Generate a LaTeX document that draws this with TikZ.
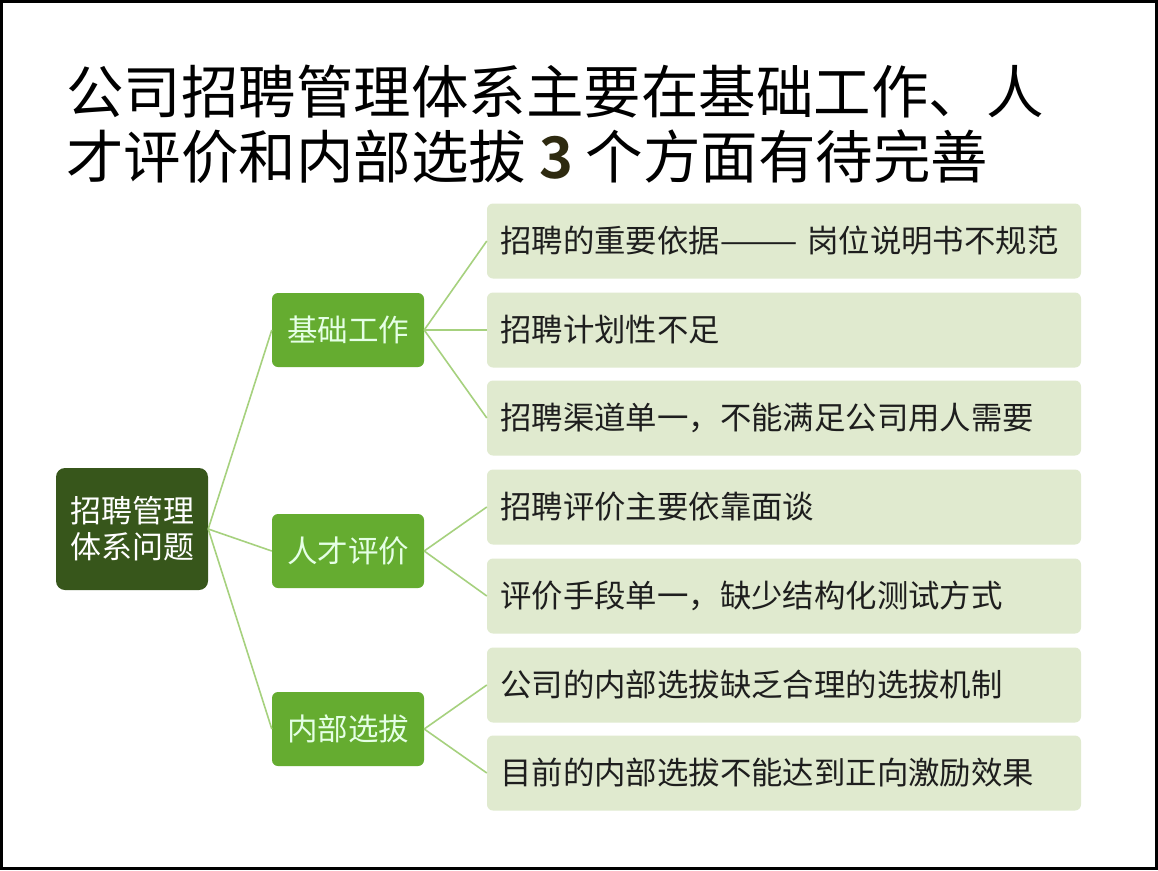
\documentclass[tikz,border=0pt]{standalone}
\usepackage{fontspec}
\setmainfont{Noto Sans CJK SC}
\newfontfamily\cjkbold{Noto Sans CJK SC Bold}
\definecolor{rootc}{HTML}{37561B}
\definecolor{midc}{HTML}{65AC30}
\definecolor{leafc}{HTML}{E0EACF}
\definecolor{linec}{HTML}{A6D17E}
\definecolor{threec}{HTML}{2E2A10}
\definecolor{txtc}{HTML}{1E1E1E}
\begin{document}
\begin{tikzpicture}[x=1pt,y=-1pt,
  rootbox/.style={fill=rootc, rounded corners=9pt, minimum width=152pt, minimum height=122pt, text=white, align=center, inner sep=0pt, font=\fontsize{31pt}{36pt}\selectfont},
  midbox/.style={fill=midc, rounded corners=6pt, minimum width=152pt, minimum height=74pt, text=white!90!green, inner sep=0pt, font=\fontsize{30.5pt}{36pt}\selectfont},
  leafbox/.style={fill=leafc, rounded corners=6pt, minimum width=594pt, minimum height=75pt, inner sep=0pt},
  leaftext/.style={anchor=west, text=txtc, inner sep=0pt, font=\fontsize{31.4pt}{36pt}\selectfont},
  conn/.style={draw=linec, line width=1.6pt}]
\useasboundingbox (0,0) rectangle (1158,870);
\fill[white] (0,0) rectangle (1158,870);
\draw[line width=3pt] (1.5,1.5) rectangle (1156,868);
% title
\node[anchor=west, inner sep=0pt, font=\fontsize{57.5pt}{62pt}\selectfont] (t1) at (66,92) {公司招聘管理体系主要在基础工作、人};
\node[anchor=west, inner sep=0pt, font=\fontsize{57.5pt}{62pt}\selectfont] (t2) at (66,157) {才评价和内部选拔 {\cjkbold\color{threec}3} 个方面有待完善};
% root
\node[rootbox] (root) at (132,529) {招聘管理\\体系问题};
% mid
\node[midbox] (m1) at (348,330) {基础工作};
\node[midbox] (m2) at (348,551) {人才评价};
\node[midbox] (m3) at (348,729) {内部选拔};
% leaves
\node[leafbox] (l1) at (784,241) {};
\node[leafbox] (l2) at (784,330) {};
\node[leafbox] (l3) at (784,418) {};
\node[leafbox] (l4) at (784,507) {};
\node[leafbox] (l5) at (784,596) {};
\node[leafbox] (l6) at (784,685) {};
\node[leafbox] (l7) at (784,773) {};
\node[leaftext] (x1) at (500,241) {招聘的重要依据———\hspace{10pt}岗位说明书不规范};
\node[leaftext] (x2) at (500,330) {招聘计划性不足};
\node[leaftext] (x3) at (500,418) {招聘渠道单一，不能满足公司用人需要};
\node[leaftext] (x4) at (500,507) {招聘评价主要依靠面谈};
\node[leaftext] (x5) at (500,596) {评价手段单一，缺少结构化测试方式};
\node[leaftext] (x6) at (500,685) {公司的内部选拔缺乏合理的选拔机制};
\node[leaftext] (x7) at (500,773) {目前的内部选拔不能达到正向激励效果};
% connectors
\draw[conn] (root.east) -- (m1.west);
\draw[conn] (root.east) -- (m2.west);
\draw[conn] (root.east) -- (m3.west);
\draw[conn] (m1.east) -- (l1.west);
\draw[conn] (m1.east) -- (l2.west);
\draw[conn] (m1.east) -- (l3.west);
\draw[conn] (m2.east) -- (l4.west);
\draw[conn] (m2.east) -- (l5.west);
\draw[conn] (m3.east) -- (l6.west);
\draw[conn] (m3.east) -- (l7.west);
\end{tikzpicture}
\end{document}
